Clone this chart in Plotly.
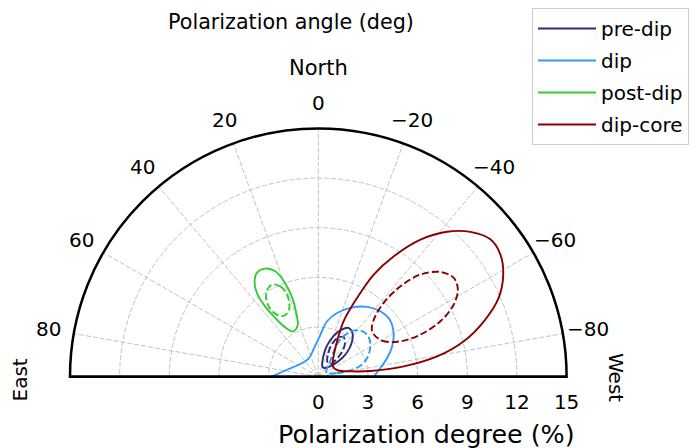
import math
import plotly.graph_objects as go

# ---------------- data ----------------
angle_ticks = [-80, -60, -40, -20, 0, 20, 40, 60, 80]
angle_labels = ["\u221280", "\u221260", "\u221240", "\u221220", "0", "20", "40", "60", "80"]
degree_ticks = [0, 3, 6, 9, 12, 15]
degree_labels = ["0", "3", "6", "9", "12", "15"]
degree_max = 15

series_names = ["pre-dip", "dip", "post-dip", "dip-core"]
series_colors = ["#2b2b7d", "#3399ff", "#33cc33", "#8b0000"]

# outer (solid) and inner (dashed) confidence contours: angle (deg), degree (%)
pre_dip_outer_theta = [-21.2, -13.8, -15.3, -20.4, -26.4, -31.6, -38.0, -44.7, -50.1, -52.5, -48.9, -34.4]
pre_dip_outer_r = [0.67, 1.26, 1.90, 2.60, 3.17, 3.46, 3.35, 2.86, 2.23, 1.53, 0.94, 0.64]
pre_dip_inner_theta = [-32.9, -22.9, -23.0, -26.5, -32.2, -38.3, -43.5, -46.0, -45.4]
pre_dip_inner_r = [1.03, 1.55, 2.17, 2.62, 2.84, 2.60, 2.11, 1.54, 1.12]

dip_outer_theta = [89.6, 77.5, 49.4, 26.4, 6.5, -2.0, -9.0, -16.4, -25.0, -35.0, -43.5, -51.3, -59.9, -67.7, -74.8, -82.0, -89.0]
dip_outer_r = [2.78, 1.94, 1.27, 1.26, 1.84, 2.44, 3.39, 4.01, 4.59, 5.15, 5.45, 5.52, 5.26, 4.82, 4.31, 3.79, 3.39]
dip_inner_theta = [-61.5, -79.0, -78.9, -75.3, -69.0, -59.8, -51.7, -44.8, -37.9, -33.4, -30.4, -31.2, -39.5]
dip_inner_r = [0.55, 1.15, 1.97, 2.63, 3.16, 3.64, 3.87, 3.84, 3.55, 3.07, 2.55, 1.79, 1.07]

post_dip_outer_theta = [26.2, 22.2, 19.9, 18.3, 19.1, 22.0, 29.2, 33.9, 36.2, 37.1, 36.5, 34.2, 30.6]
post_dip_outer_r = [7.28, 6.88, 6.18, 5.06, 4.07, 3.34, 3.14, 3.59, 4.40, 5.33, 6.17, 6.85, 7.29]
post_dip_inner_theta = [26.7, 22.8, 21.0, 21.4, 24.5, 29.8, 33.7, 35.3, 33.5, 30.3]
post_dip_inner_r = [6.23, 5.92, 5.42, 4.79, 4.34, 4.23, 4.51, 5.10, 5.71, 6.09]

dip_core_outer_theta = [-24.5, -26.6, -33.7, -42.2, -57.7, -72.8, -80.6, -83.8, -83.1, -80.3, -76.3, -71.5,
                        -66.4, -61.1, -56.1, -51.4, -46.4, -41.6, -36.7, -32.1, -28.5, -26.2]
dip_core_outer_r = [3.79, 2.71, 1.74, 1.31, 1.07, 1.27, 1.97, 3.17, 5.20, 7.28, 9.05, 10.55,
                    11.89, 12.76, 13.25, 13.30, 12.69, 11.71, 10.33, 8.59, 7.02, 5.30]
dip_core_inner_theta = [-49.9, -60.5, -66.7, -67.6, -65.6, -62.0, -58.0, -53.9, -49.4, -45.0, -42.3, -41.5, -44.2]
dip_core_inner_r = [4.25, 4.42, 5.40, 6.67, 8.10, 9.26, 9.94, 10.13, 9.72, 8.73, 7.38, 5.96, 4.81]

outer_theta = [pre_dip_outer_theta, dip_outer_theta, post_dip_outer_theta, dip_core_outer_theta]
outer_r = [pre_dip_outer_r, dip_outer_r, post_dip_outer_r, dip_core_outer_r]
inner_theta = [pre_dip_inner_theta, dip_inner_theta, post_dip_inner_theta, dip_core_inner_theta]
inner_r = [pre_dip_inner_r, dip_inner_r, post_dip_inner_r, dip_core_inner_r]
outer_closed = [True, False, True, True]

FONT = "DejaVu Sans"
GRID = "#c2c2c2"
fig = go.Figure()


def close(seq, closed):
    return list(seq) + [seq[0]] if closed else list(seq)


for i, name in enumerate(series_names):
    fig.add_trace(go.Scatterpolar(
        theta=close(outer_theta[i], outer_closed[i]), r=close(outer_r[i], outer_closed[i]),
        mode="lines", name=name, legendgroup=name,
        line=dict(color=series_colors[i], width=1.9, shape="spline", smoothing=1.0),
        hoverinfo="skip"))
    fig.add_trace(go.Scatterpolar(
        theta=close(inner_theta[i], True), r=close(inner_r[i], True),
        mode="lines", name=name, legendgroup=name, showlegend=False,
        line=dict(color=series_colors[i], width=1.9, dash="7px,3px", shape="spline", smoothing=1.0),
        hoverinfo="skip"))

# base line (diameter of the half disc)
fig.add_trace(go.Scatterpolar(
    theta=[90, 0, -90], r=[degree_max, 0, degree_max], mode="lines",
    line=dict(color="black", width=2.5), showlegend=False, hoverinfo="skip", cliponaxis=False))

# the page body adds an 8 px offset; work in window pixels and shift
OFF = 8
W, H = 697 - OFF, 448 - OFF


def px(x):
    return (x - OFF) / W


def py(y):
    return 1 - (y - OFF) / H


cx, cy, R = 318.3, 376.7, 248.3   # centre and rim radius of the half disc (window px)
LABEL_PAD = 25.2                   # angle labels are centred this far outside the rim

annotations = [
    dict(text="Polarization angle (deg)", x=px(290.5), y=py(22), font=dict(size=20.7)),
    dict(text="North", x=px(318), y=py(68), font=dict(size=21)),
    dict(text="Polarization degree (%)", x=px(426), y=py(434), font=dict(size=25.4)),
    dict(text="East", x=px(19.5), y=py(380), textangle=-90, font=dict(size=20)),
    dict(text="West", x=px(616), y=py(377), textangle=90, font=dict(size=20)),
]
for a, lab in zip(angle_ticks, angle_labels):
    t = math.radians(a)
    annotations.append(dict(text=lab,
                            x=px(cx - (R + LABEL_PAD) * math.sin(t)),
                            y=py(cy - (R + LABEL_PAD) * math.cos(t)),
                            font=dict(size=20)))
for an in annotations:
    an.update(xref="paper", yref="paper", showarrow=False, xanchor="center", yanchor="middle")

fig.update_layout(
    width=W, height=H,
    margin=dict(l=0, r=0, t=0, b=0),
    paper_bgcolor="white",
    font=dict(family=FONT, size=20, color="black"),
    polar=dict(
        domain=dict(x=[px(cx - R), px(cx + R)], y=[py(cy), py(cy - R)]),
        sector=[0, 180],
        bgcolor="white",
        angularaxis=dict(
            rotation=90, direction="counterclockwise",
            tickmode="array", tickvals=angle_ticks, ticktext=angle_labels,
            ticks="", showticklabels=False,
            showline=True, linecolor="black", linewidth=2.5,
            showgrid=True, gridcolor=GRID, gridwidth=1, griddash="5px,2px",
        ),
        radialaxis=dict(
            range=[0, degree_max], angle=0,
            tickmode="array", tickvals=degree_ticks, ticktext=degree_labels,
            ticks="outside", ticklen=8, tickcolor="rgba(0,0,0,0)", showline=False,
            showgrid=True, gridcolor=GRID, gridwidth=1, griddash="5px,2px",
            tickfont=dict(family=FONT, size=20, color="black"),
            side="clockwise",
        ),
    ),
    legend=dict(
        x=px(689), y=py(7.5), xanchor="right", yanchor="top",
        bgcolor="white", bordercolor="#cccccc", borderwidth=1,
        tracegroupgap=3, itemwidth=58,
        font=dict(family=FONT, size=20, color="black"),
    ),
    annotations=annotations,
)

fig.write_html("out.html")
